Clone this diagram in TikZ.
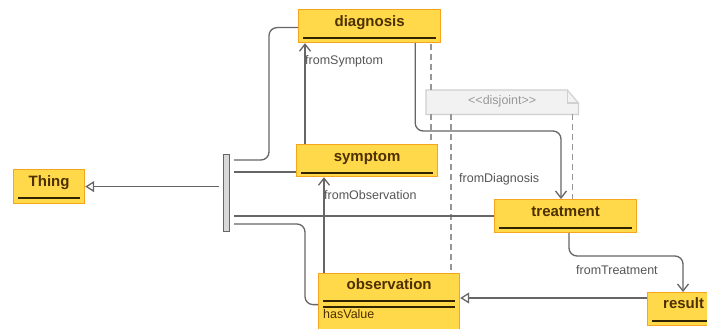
\documentclass[tikz,border=0pt]{standalone}
\usepackage{fontspec}
\setmainfont{Liberation Sans}
\usetikzlibrary{arrows.meta}
\definecolor{boxfill}{RGB}{255,217,74}
\definecolor{boxline}{RGB}{247,165,28}
\definecolor{titlec}{RGB}{77,48,0}
\definecolor{ulinec}{RGB}{50,35,0}
\definecolor{linec}{RGB}{102,102,102}
\definecolor{labelc}{RGB}{85,85,85}
\definecolor{dashc}{RGB}{150,150,150}
\definecolor{notefill}{RGB}{242,242,242}
\definecolor{noteline}{RGB}{208,208,208}
\definecolor{notetext}{RGB}{153,153,153}
\definecolor{barfill}{RGB}{217,217,217}
\begin{document}
\begin{tikzpicture}[x=1pt,y=-1pt,
 cls/.style={draw=boxline, fill=boxfill, line width=1.2pt, inner sep=0pt, anchor=north west},
 ttl/.style={font=\fontsize{15}{18}\selectfont\bfseries, text=titlec, inner sep=0pt, anchor=base},
 uline/.style={draw=ulinec, line width=1.4pt},
 conn/.style={draw=linec, line width=1.3pt, rounded corners=8pt},
 assoc/.style={conn, -{Straight Barb[length=7pt,width=11pt]}},
 gen/.style={conn, -{Triangle[open,length=9pt,width=11pt,fill=white]}},
 lbl/.style={font=\fontsize{12.5}{15}\selectfont, text=labelc, inner sep=0pt, anchor=base west},
 dsh/.style={draw=dashc, line width=1.3pt, dash pattern=on 6pt off 4pt}]
\useasboundingbox (0,0) rectangle (707,329);
\fill[white] (0,0) rectangle (707,329);
\clip (0,0) rectangle (707,329);

% class boxes
\node[cls, minimum width=71pt, minimum height=34pt] (thing) at (13,169) {};
\node[cls, minimum width=142pt, minimum height=33pt] (diag) at (298,9) {};
\node[cls, minimum width=141pt, minimum height=32pt] (sym) at (296,144) {};
\node[cls, minimum width=142pt, minimum height=33pt] (treat) at (494,199) {};
\node[cls, minimum width=141pt, minimum height=62pt] (obs) at (318,273) {};
\node[cls, minimum width=72pt, minimum height=33pt] (res) at (647,292) {};
\node[draw=linec, fill=barfill, line width=1pt, inner sep=0pt, anchor=north west,
      minimum width=6pt, minimum height=77pt] (bar) at (223,154) {};
\node[inner sep=0pt, anchor=north west, minimum width=152pt, minimum height=24pt] (note) at (426,90) {};

% titles
\node[ttl] (thingT) at ([yshift=-17.5pt]thing.north) {Thing};
\node[ttl] (diagT) at ([yshift=-17.5pt]diag.north) {diagnosis};
\node[ttl] (symT) at ([yshift=-17.5pt]sym.north) {symptom};
\node[ttl] (treatT) at ([yshift=-17.5pt]treat.north) {treatment};
\node[ttl] (obsT) at ([yshift=-16.5pt]obs.north) {observation};
\node[ttl] (resT) at ([yshift=-16.5pt]res.north) {result};

% underlines
\draw[uline] ([xshift=5pt,yshift=-29pt]thing.north west) -- ([xshift=-5pt,yshift=-29pt]thing.north east);
\draw[uline] ([xshift=5pt,yshift=-29pt]diag.north west) -- ([xshift=-5pt,yshift=-29pt]diag.north east);
\draw[uline] ([xshift=5pt,yshift=-29pt]sym.north west) -- ([xshift=-5pt,yshift=-29pt]sym.north east);
\draw[uline] ([xshift=5pt,yshift=-29pt]treat.north west) -- ([xshift=-5pt,yshift=-29pt]treat.north east);
\draw[uline] ([xshift=5pt,yshift=-28pt]obs.north west) -- ([xshift=-5pt,yshift=-28pt]obs.north east);
\draw[uline] ([xshift=5pt,yshift=-34pt]obs.north west) -- ([xshift=-5pt,yshift=-34pt]obs.north east);
\draw[uline] ([xshift=5pt,yshift=-29pt]res.north west) -- ([xshift=-5pt,yshift=-29pt]res.north east);
\node[lbl, text=titlec] (hasV) at ([xshift=5pt,yshift=-45.5pt]obs.north west) {hasValue};

% note
\draw[draw=noteline, fill=notefill, line width=1.2pt] (note.north west) -- ([xshift=-11pt]note.north east)
  -- ([yshift=-13pt]note.north east) -- (note.south east) -- (note.south west) -- cycle;
\draw[draw=noteline, line width=1.2pt] ([xshift=-11pt]note.north east) |- ([yshift=-13pt]note.north east);
\node[font=\fontsize{12.5}{15}\selectfont, text=notetext, inner sep=0pt, anchor=base] (noteT)
  at ([yshift=-14.5pt]note.north) {\mbox{<}\mbox{<}disjoint\mbox{>}\mbox{>}};

% dashed lines from note
\coordinate (n1) at ([xshift=5pt]note.north west);
\draw[dsh] (n1) -- (n1 |- diag.south);
\coordinate (n2) at ([xshift=5pt]note.south west);
\draw[dsh] (n2) -- (n2 |- sym.north);
\coordinate (n3) at ([xshift=25pt]note.south west);
\draw[dsh] (n3) -- (n3 |- obs.north);
\coordinate (n4) at ([xshift=-6pt]note.south east);
\draw[dsh] (n4) -- (n4 |- treat.north);

% generalization to Thing
\draw[gen, shorten <=4pt] (bar.west |- thing.east) -- (thing.east);

% from bar to subclasses
\coordinate (b1) at ([yshift=-6pt]bar.north east);
\coordinate (b2) at ([yshift=-18pt]bar.north east);
\coordinate (b4) at ([yshift=-70pt]bar.north east);
\draw[conn, shorten <=4pt] (b1) -| ([xshift=-29pt,yshift=-1.5pt]diag.west) -- ([yshift=-1.5pt]diag.west);
\draw[conn, shorten <=4pt] (b2) -- (b2 -| sym.west);
\draw[conn, shorten <=4pt] (bar.east |- treat.west) -- (treat.west);
\draw[conn, shorten <=4pt] (b4) -| ([xshift=-13pt]obs.west) -- (obs.west);

% associations
\coordinate (s1) at ([xshift=9pt]sym.north west);
\draw[assoc] (s1) -- (s1 |- diag.south);
\coordinate (o1) at ([xshift=6pt]obs.north west);
\draw[assoc] (o1) -- (o1 |- sym.south);
\coordinate (d1) at ([xshift=-26pt]diag.south east);
\coordinate (t1) at ([xshift=67pt]treat.north west);
\draw[assoc] (d1) |- ([yshift=68pt]t1) -- (t1);
\coordinate (t2) at ([xshift=75pt]treat.south west);
\coordinate (r1) at ([xshift=36pt]res.north west);
\draw[assoc] (t2) |- ([yshift=36pt]r1) -- (r1);
\coordinate (r2) at ([yshift=-6pt]res.north west);
\draw[gen] (r2) -- (r2 -| obs.east);

% labels
\node[lbl] (lS) at (305,64.5) {fromSymptom};
\node[lbl] (lO) at (324,199.5) {fromObservation};
\node[lbl] (lD) at (459,182.5) {fromDiagnosis};
\node[lbl] (lT) at (576,274.5) {fromTreatment};
\end{tikzpicture}
\end{document}
